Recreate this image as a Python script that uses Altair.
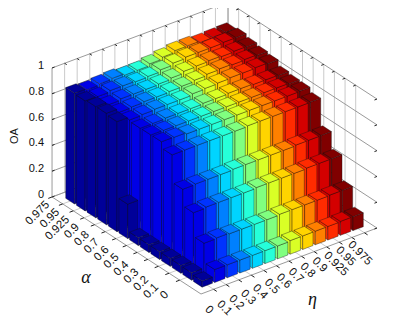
import altair as alt
import pandas as pd

alpha_labels = ["0", "0.1", "0.2", "0.3", "0.4", "0.5", "0.6", "0.7", "0.8", "0.9", "0.925", "0.95", "0.975"]
eta_labels = ["0", "0.1", "0.2", "0.3", "0.4", "0.5", "0.6", "0.7", "0.8", "0.9", "0.925", "0.95", "0.975"]
z_labels = ["0", "0.2", "0.4", "0.6", "0.8", "1"]
z_ticks = [0, 0.2, 0.4, 0.6, 0.8, 1]

# OA, one list per alpha (0 ... 0.975), one value per eta (0 ... 0.975)
oa_a0000 = [.047, .100, .100, .100, .100, .100, .100, .105, .105, .105, .105, .108, .108]
oa_a0100 = [.058, .250, .255, .250, .250, .250, .250, .255, .255, .255, .255, .258, .258]
oa_a0200 = [.060, .433, .440, .440, .440, .440, .445, .445, .445, .445, .450, .450, .450]
oa_a0300 = [.060, .561, .565, .565, .565, .570, .570, .570, .570, .570, .575, .575, .577]
oa_a0400 = [.060, .774, .775, .775, .775, .775, .775, .780, .780, .780, .780, .780, .782]
oa_a0500 = [.060, .822, .820, .810, .810, .810, .810, .810, .810, .810, .810, .810, .813]
oa_a0600 = [.060, .821, .820, .820, .820, .820, .820, .820, .820, .820, .820, .820, .816]
oa_a0700 = [.267, .819, .820, .825, .825, .825, .830, .830, .835, .835, .830, .830, .827]
oa_a0800 = [.853, .830, .835, .840, .840, .840, .850, .855, .860, .865, .865, .870, .864]
oa_a0900 = [.864, .835, .840, .845, .845, .850, .855, .865, .875, .880, .875, .880, .875]
oa_a0925 = [.862, .840, .850, .850, .850, .855, .865, .880, .885, .890, .885, .890, .888]
oa_a0950 = [.853, .850, .860, .860, .855, .860, .875, .890, .900, .900, .900, .905, .905]
oa_a0975 = [.858, .849, .858, .864, .853, .854, .868, .883, .897, .898, .887, .890, .893]
oa = [oa_a0000, oa_a0100, oa_a0200, oa_a0300, oa_a0400, oa_a0500, oa_a0600,
      oa_a0700, oa_a0800, oa_a0900, oa_a0925, oa_a0950, oa_a0975]

jet_top = ["#000099", "#0000e6", "#0033ff", "#0080ff", "#00d4ff", "#26ffd9", "#80ff80",
           "#d9ff26", "#ffd400", "#ff8000", "#ff2b00", "#d40000", "#800000"]

W, H = 382, 308
BX, BY = 201.0, 294.0
EU = (12.57, -4.71)
EV = (-10.64, -6.93)
ZS = 129.0
BAR = 0.41


def proj(u, v, z):
    px = BX + EU[0] * u + EV[0] * v
    py = BY + EU[1] * u + EV[1] * v - ZS * z
    return px - 8, H - (py - 8)


def page(px, py):
    return px - 8, H - (py - 8)


# --- box, grid, ticks ---------------------------------------------------
lines = []


def seg(group, a, b):
    name = f"{group}{len(lines)}"
    for k, p in enumerate((a, b)):
        x, y = proj(*p)
        lines.append({"id": name, "k": k, "x": x, "y": y, "group": group})


for z in z_ticks:
    seg("wall", (0, 14, z), (14, 14, z))
    seg("wall", (14, 14, z), (14, 0, z))
seg("wall", (0, 14, 0), (0, 14, 1))
seg("wall", (14, 14, 0), (14, 14, 1))
seg("wall", (0, 14, 0), (0, 0, 0))
seg("wall", (0, 0, 0), (14, 0, 0))
for t in range(1, 14):
    seg("grid", (t, 14, 0), (t, 14, 1))
    seg("grid", (t, 0, 0), (t, 14, 0))
for t in range(2, 15):
    seg("grid", (14, t, 0), (14, t, 1))
    seg("grid", (0, t, 0), (14, t, 0))
for t in range(1, 14):
    seg("tick", (t, 14, 1), (t, 13.8, 1))
    seg("tick", (t, 0, 0), (t, -0.3, 0))
for t in range(2, 15):
    seg("tick", (14, t, 1), (13.8, t, 1))
    seg("tick", (0, t, 0), (-0.3, t, 0))
for z in z_ticks:
    seg("tick", (0, 14, z), (0.2, 14, z))
    seg("tick", (14, 0, z), (13.8, 0, z))

line_df = pd.DataFrame(lines)
xs = alt.X("x:Q", axis=None, scale=alt.Scale(domain=[0, W], nice=False, zero=False))
ys = alt.Y("y:Q", axis=None, scale=alt.Scale(domain=[0, H], nice=False, zero=False))

wall = alt.Chart(line_df[line_df.group == "wall"]).mark_line(color="#8e8e8e", strokeWidth=0.9).encode(
    x=xs, y=ys, detail="id:N", order="k:Q")
grid = alt.Chart(line_df[line_df.group == "grid"]).mark_line(color="#c4c4c4", strokeWidth=0.9).encode(
    x=xs, y=ys, detail="id:N", order="k:Q")
tick = alt.Chart(line_df[line_df.group == "tick"]).mark_line(color="#222222", strokeWidth=1).encode(
    x=xs, y=ys, detail="id:N", order="k:Q")

# --- bars ---------------------------------------------------------------
rows = []
n = 0


def face(pts, fill):
    global n
    name = f"f{n:04d}"
    n += 1
    for k, p in enumerate(pts + pts[:1]):
        x, y = proj(*p)
        rows.append({"id": name, "k": k, "x": x, "y": y, "fill": fill})


for j in range(12, -1, -1):
    for i in range(12, -1, -1):
        h = oa[j][i]
        u0, u1 = i + 1 - BAR, i + 1 + BAR
        v0, v1 = j + 1 - BAR, j + 1 + BAR
        face([(u0, v0, 0), (u0, v1, 0), (u0, v1, h), (u0, v0, h)], jet_top[i])
        face([(u0, v0, 0), (u1, v0, 0), (u1, v0, h), (u0, v0, h)], jet_top[i])
        face([(u0, v0, h), (u1, v0, h), (u1, v1, h), (u0, v1, h)], jet_top[i])

bars = alt.Chart(pd.DataFrame(rows)).mark_line(stroke="#101010", strokeWidth=0.55, strokeOpacity=0.7).encode(
    x=xs, y=ys, detail="id:N", order="k:Q",
    fill=alt.Fill("fill:N", scale=None))

# --- text ---------------------------------------------------------------
alpha_text = []
for k, lab in enumerate(reversed(alpha_labels)):
    x, y = page(48 + 9.9 * k, 203 + 7.5 * k)
    alpha_text.append({"x": x, "y": y, "t": lab})
eta_text = []
for k, lab in enumerate(eta_labels):
    x, y = page(206.7 + 11.9 * k, 308 - 5.4 * k)
    eta_text.append({"x": x, "y": y, "t": lab})
z_text = []
for lab, z in zip(z_labels, z_ticks):
    x, y = page(44, 195 - ZS * z)
    z_text.append({"x": x, "y": y, "t": lab})

FONT = "Liberation Sans"
a_txt = alt.Chart(pd.DataFrame(alpha_text)).mark_text(font=FONT, fontSize=11.5, angle=315, align="right", baseline="middle", color="#111111").encode(x=xs, y=ys, text="t:N")
e_txt = alt.Chart(pd.DataFrame(eta_text)).mark_text(font=FONT, fontSize=11.5, angle=45, align="left", baseline="middle", color="#111111").encode(x=xs, y=ys, text="t:N")
z_txt = alt.Chart(pd.DataFrame(z_text)).mark_text(font=FONT, fontSize=11, align="right", baseline="middle", color="#111111").encode(x=xs, y=ys, text="t:N")

ox, oy = page(15, 136)
oa_title = alt.Chart(pd.DataFrame([{"x": ox, "y": oy, "t": "OA"}])).mark_text(font=FONT, fontSize=11, angle=270, align="center", baseline="middle", color="#111111").encode(x=xs, y=ys, text="t:N")
ax, ay = page(86, 278)
alpha_title = alt.Chart(pd.DataFrame([{"x": ax, "y": ay, "t": "α"}])).mark_text(font="Liberation Serif", fontSize=18, fontStyle="italic", align="center", baseline="middle", color="#111111").encode(x=xs, y=ys, text="t:N")
hx, hy = page(312.5, 300)
eta_title = alt.Chart(pd.DataFrame([{"x": hx, "y": hy, "t": "η"}])).mark_text(font="Liberation Serif", fontSize=18, fontStyle="italic", align="center", baseline="middle", color="#111111").encode(x=xs, y=ys, text="t:N")

chart = alt.layer(grid, wall, tick, bars, a_txt, e_txt, z_txt, oa_title, alpha_title, eta_title).properties(
    width=W, height=H, padding=0, autosize=alt.AutoSizeParams(type="none")
).configure_view(stroke=None)

chart.save("out.html", embed_options={"renderer": "svg", "actions": False})
